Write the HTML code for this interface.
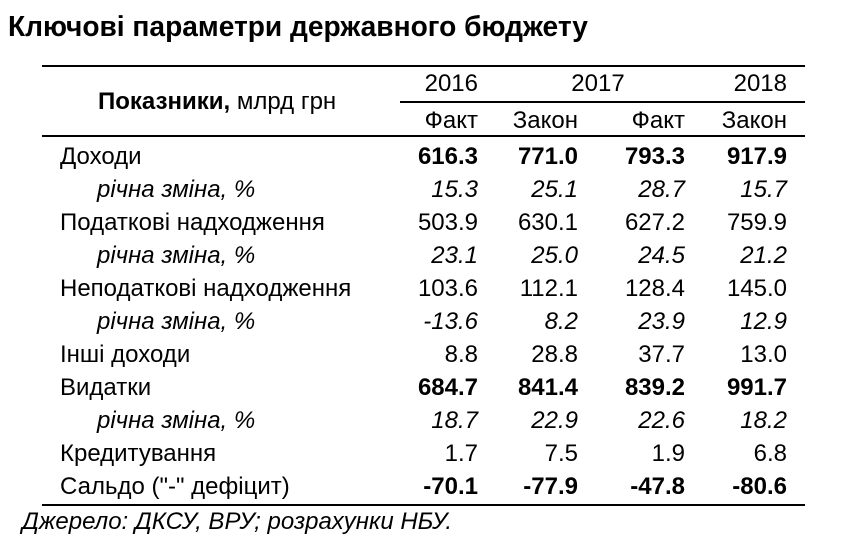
<!DOCTYPE html>
<html><head><meta charset="utf-8">
<style>
body{margin:0;width:850px;height:550px;background:#fff;position:relative;overflow:hidden;font-family:"Liberation Sans",sans-serif;color:#000}
.t{position:absolute;left:8px;top:11px;font-size:29px;font-weight:bold;transform:scaleX(0.97);transform-origin:left;white-space:nowrap}
.l{position:absolute;left:60px;font-size:24px;line-height:26px;white-space:nowrap}
.i{left:97px;font-style:italic}
.n{position:absolute;font-size:24px;line-height:26px;white-space:nowrap;text-align:right;width:100px}
.b{font-weight:bold}
.it{font-style:italic}
.hr{position:absolute;background:#000;height:2px}
.c1{left:378px}.c2{left:478px}.c3{left:585px}.c4{left:687px}
</style></head><body>
<div class="t">Ключові параметри державного бюджету</div>
<div class="hr" style="left:42px;width:763px;top:65px"></div>
<div class="hr" style="left:400px;width:405px;top:101px;height:1.5px"></div>
<div class="hr" style="left:42px;width:763px;top:135px"></div>
<div class="hr" style="left:42px;width:763px;top:504px"></div>

<div class="l" style="left:98px;top:89px"><b>Показники,</b> млрд грн</div>
<div class="n c1" style="top:71px">2016</div>
<div class="n" style="left:548px;top:71px;text-align:center">2017</div>
<div class="n c4" style="top:71px">2018</div>
<div class="n c1" style="top:108px">Факт</div>
<div class="n c2" style="top:108px">Закон</div>
<div class="n c3" style="top:108px">Факт</div>
<div class="n c4" style="top:108px">Закон</div>

<div class="l" style="top:144px">Доходи</div>
<div class="n c1 b" style="top:144px">616.3</div><div class="n c2 b" style="top:144px">771.0</div><div class="n c3 b" style="top:144px">793.3</div><div class="n c4 b" style="top:144px">917.9</div>

<div class="l i" style="top:177px">річна зміна, %</div>
<div class="n c1 it" style="top:177px">15.3</div><div class="n c2 it" style="top:177px">25.1</div><div class="n c3 it" style="top:177px">28.7</div><div class="n c4 it" style="top:177px">15.7</div>

<div class="l" style="top:210px">Податкові надходження</div>
<div class="n c1" style="top:210px">503.9</div><div class="n c2" style="top:210px">630.1</div><div class="n c3" style="top:210px">627.2</div><div class="n c4" style="top:210px">759.9</div>

<div class="l i" style="top:243px">річна зміна, %</div>
<div class="n c1 it" style="top:243px">23.1</div><div class="n c2 it" style="top:243px">25.0</div><div class="n c3 it" style="top:243px">24.5</div><div class="n c4 it" style="top:243px">21.2</div>

<div class="l" style="top:276px">Неподаткові надходження</div>
<div class="n c1" style="top:276px">103.6</div><div class="n c2" style="top:276px">112.1</div><div class="n c3" style="top:276px">128.4</div><div class="n c4" style="top:276px">145.0</div>

<div class="l i" style="top:309px">річна зміна, %</div>
<div class="n c1 it" style="top:309px">-13.6</div><div class="n c2 it" style="top:309px">8.2</div><div class="n c3 it" style="top:309px">23.9</div><div class="n c4 it" style="top:309px">12.9</div>

<div class="l" style="top:342px">Інші доходи</div>
<div class="n c1" style="top:342px">8.8</div><div class="n c2" style="top:342px">28.8</div><div class="n c3" style="top:342px">37.7</div><div class="n c4" style="top:342px">13.0</div>

<div class="l" style="top:375px">Видатки</div>
<div class="n c1 b" style="top:375px">684.7</div><div class="n c2 b" style="top:375px">841.4</div><div class="n c3 b" style="top:375px">839.2</div><div class="n c4 b" style="top:375px">991.7</div>

<div class="l i" style="top:408px">річна зміна, %</div>
<div class="n c1 it" style="top:408px">18.7</div><div class="n c2 it" style="top:408px">22.9</div><div class="n c3 it" style="top:408px">22.6</div><div class="n c4 it" style="top:408px">18.2</div>

<div class="l" style="top:441px">Кредитування</div>
<div class="n c1" style="top:441px">1.7</div><div class="n c2" style="top:441px">7.5</div><div class="n c3" style="top:441px">1.9</div><div class="n c4" style="top:441px">6.8</div>

<div class="l" style="top:474px">Сальдо ("-" дефіцит)</div>
<div class="n c1 b" style="top:474px">-70.1</div><div class="n c2 b" style="top:474px">-77.9</div><div class="n c3 b" style="top:474px">-47.8</div><div class="n c4 b" style="top:474px">-80.6</div>

<div class="l it" style="left:22px;top:509px">Джерело: ДКСУ, ВРУ; розрахунки НБУ.</div>
</body></html>
